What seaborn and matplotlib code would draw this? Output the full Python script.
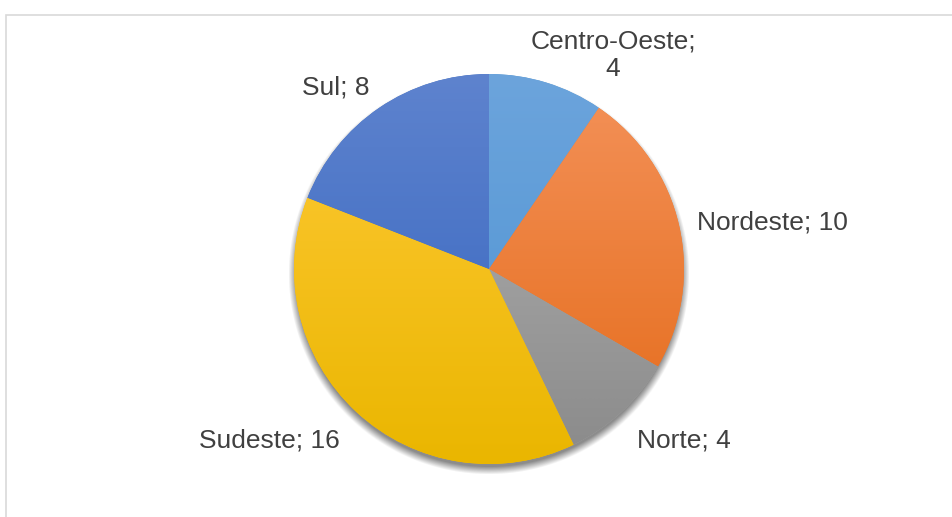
import numpy as np
import matplotlib
matplotlib.use('Agg')
import matplotlib.pyplot as plt
from matplotlib.colors import LinearSegmentedColormap, to_rgb
from matplotlib.patches import Rectangle
import seaborn as sns

regions = ['Centro-Oeste', 'Nordeste', 'Norte', 'Sudeste', 'Sul']
counts = [4, 10, 4, 16, 8]
base_colors = ['#5B9BD5', '#ED7D31', '#A5A5A5', '#FFC000', '#4472C4']
top_colors = ['#6CA4DC', '#F4925A', '#B4B4B4', '#FFCA38', '#5E83CE']
bottom_colors = ['#4C92D2', '#E46A18', '#8A8A8A', '#EAB600', '#3363BE']
label_texts = ['Centro-Oeste;\n4', 'Nordeste; 10', 'Norte; 4', 'Sudeste; 16', 'Sul; 8']
# label anchor offsets from the pie centre, in radius units
label_offsets = [(0.636, 1.095), (1.456, 0.241), (1.0, -0.877), (-1.128, -0.877), (-0.785, 0.933)]

sns.set_theme(style='white')
plt.rcParams['font.family'] = ['Liberation Sans', 'DejaVu Sans']

W, H = 952, 517
fig = plt.figure(figsize=(W / 100, H / 100), dpi=100)
ax = fig.add_axes([0, 0, 1, 1])

cx, cy, R = 489, 248, 195

# soft drop shadow
sx, sy = cx, cy - 5
xs = np.arange(cx - R - 20, cx + R + 20)
ys = np.arange(cy - R - 25, cy + R + 20)
XX, YY = np.meshgrid(xs, ys)
d = np.hypot(XX - sx, YY - sy)
alpha = 0.6 * np.clip((R + 2 - d) / 8 + 0.5, 0, 1)
shadow = np.zeros(XX.shape + (4,))
shadow[..., :3] = 0.25
shadow[..., 3] = alpha
ax.imshow(shadow, extent=[xs[0], xs[-1], ys[0], ys[-1]], origin='lower',
          aspect='auto', zorder=0, interpolation='bilinear')

wedges, _ = ax.pie(counts, startangle=90, counterclock=False,
                   center=(cx, cy), radius=R, colors=base_colors,
                   wedgeprops=dict(linewidth=0, zorder=1))

grad = np.linspace(0, 1, 256).reshape(-1, 1)
for w, ctop, cbot in zip(wedges, top_colors, bottom_colors):
    cmap = LinearSegmentedColormap.from_list('g', [to_rgb(cbot), to_rgb(ctop)])
    im = ax.imshow(grad, cmap=cmap, extent=[cx - R, cx + R, cy - R, cy + R],
                   origin='lower', aspect='auto', zorder=2)
    im.set_clip_path(w)

for txt, (ox, oy) in zip(label_texts, label_offsets):
    ax.text(cx + ox * R, cy + oy * R, txt, ha='center', va='center',
            fontsize=19, color='#404040', linespacing=1.2, zorder=5)

# chart area border (runs off the right and bottom edges)
ax.add_patch(Rectangle((5.5, -10), 1000, H - 14.5 + 10, fill=False,
                       edgecolor='#D9D9D9', linewidth=1.2, zorder=6))

ax.set_xlim(0, W)
ax.set_ylim(0, H)
ax.axis('off')

fig.savefig('out.png', dpi=100, facecolor='white')
